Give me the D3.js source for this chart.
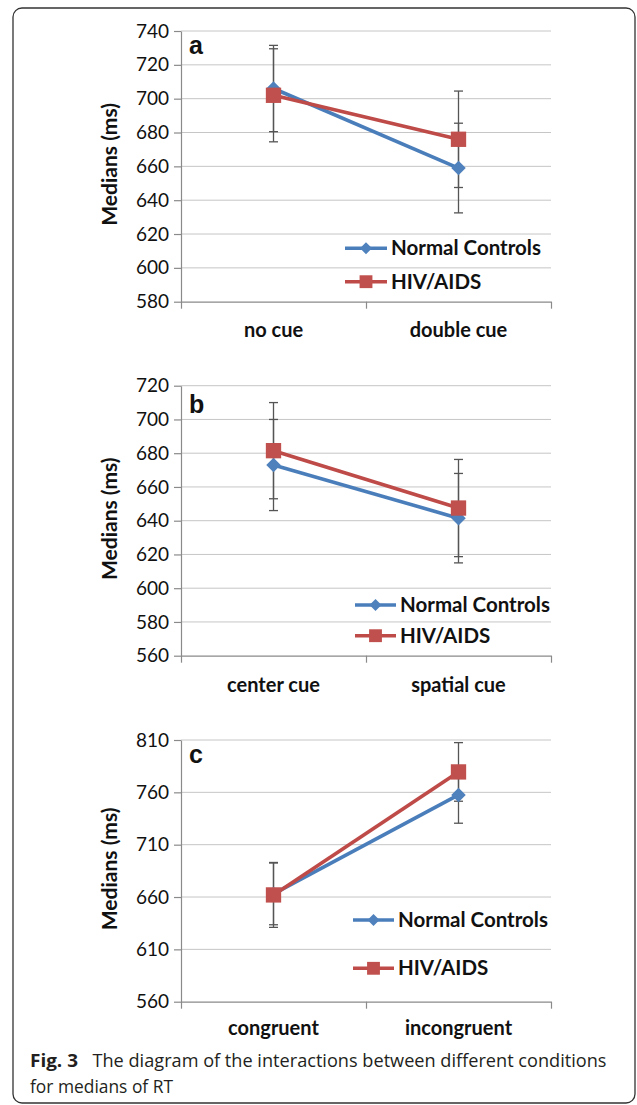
<!DOCTYPE html>
<html>
<head>
<meta charset="utf-8">
<script src="https://cdn.jsdelivr.net/npm/d3@7"></script>
<style>
	body { margin: 0; background: #fff; }
	svg { display: block; }
	.grid line { stroke: #c6c6c6; stroke-width: 1; }
	.axis path, .axis line { stroke: #8a8a8a; stroke-width: 1.2; }
	.axis text { font-family: Lato, sans-serif; font-size: 19px; fill: #111; }
	.cat-label { font-family: Lato, sans-serif; font-size: 20px; font-weight: bold; fill: #111; }
	.y-title { font-family: Lato, sans-serif; font-size: 21px; font-weight: bold; fill: #111; }
	.panel-label { font-family: 'Liberation Sans', Arial, sans-serif; font-size: 25px; font-weight: bold; fill: #111; }
	.legend text { font-family: Lato, sans-serif; font-size: 20.5px; font-weight: bold; fill: #111; }
	.err { stroke: #555; stroke-width: 1.3; }
	.caption { font-family: 'Open Sans', sans-serif; font-size: 18px; fill: #231f20; }
</style>
</head>
<body>
<script>
	// panel a
	var categoriesA = ['no cue', 'double cue'];
	var ticksA = [580, 600, 620, 640, 660, 680, 700, 720, 740];
	var normalA = [706, 659];
	var normalErrA = [25.5, 26.5];
	var hivA = [702, 676];
	var hivErrA = [27.5, 28.5];

	// panel b
	var categoriesB = ['center cue', 'spatial cue'];
	var ticksB = [560, 580, 600, 620, 640, 660, 680, 700, 720];
	var normalB = [673, 641.5];
	var normalErrB = [27, 26.5];
	var hivB = [681.5, 647.5];
	var hivErrB = [28.5, 28.8];

	// panel c
	var categoriesC = ['congruent', 'incongruent'];
	var ticksC = [560, 610, 660, 710, 760, 810];
	var normalC = [663, 757.5];
	var normalErrC = [29.5, 27];
	var hivC = [662, 779.5];
	var hivErrC = [31, 28];

	var seriesNames = ['Normal Controls', 'HIV/AIDS'];

	var blueLine = '#4a7ebb', blueMark = '#4f81bd';
	var redLine = '#be4b48', redMark = '#c0504d';

	var fullWidth = 637;
	var fullHeight = 1105;
	var left = 181, right = 551;

	var svg = d3.select('body')
		.append('svg')
		.attr('width', fullWidth)
		.attr('height', fullHeight);

	// figure frame
	svg.append('rect')
		.attr('x', 13)
		.attr('y', 8)
		.attr('width', 622)
		.attr('height', 1095)
		.attr('rx', 9)
		.attr('fill', 'none')
		.attr('stroke', '#333')
		.attr('stroke-width', 1.3);

	var diamond = d3.symbol().type(d3.symbolSquare).size(105);
	var square = d3.symbol().type(d3.symbolSquare).size(235);
	var diamondSmall = d3.symbol().type(d3.symbolSquare).size(72);
	var squareSmall = d3.symbol().type(d3.symbolSquare).size(165);

	var panels = [
		{ label: 'a', categories: categoriesA, ticks: ticksA, normal: normalA, normalErr: normalErrA, hiv: hivA, hivErr: hivErrA,
			top: 31, bottom: 301.7, legend: [345, 387, 248.3, 281.7], catY: 337 },
		{ label: 'b', categories: categoriesB, ticks: ticksB, normal: normalB, normalErr: normalErrB, hiv: hivB, hivErr: hivErrB,
			top: 385.7, bottom: 655.7, legend: [355, 396, 605, 635.7], catY: 692 },
		{ label: 'c', categories: categoriesC, ticks: ticksC, normal: normalC, normalErr: normalErrC, hiv: hivC, hivErr: hivErrC,
			top: 740, bottom: 1001.7, legend: [353, 394, 920, 968.3], catY: 1035 }
	];

	panels.forEach(render);

	function render(p) {
		var x = d3.scalePoint()
			.domain(p.categories)
			.range([left, right])
			.padding(0.5);

		var y = d3.scaleLinear()
			.domain([p.ticks[0], p.ticks[p.ticks.length - 1]])
			.range([p.bottom, p.top]);

		var bounds = d3.scaleLinear()
			.domain([0, p.categories.length])
			.range([left, right]);

		var g = svg.append('g');

		// gridlines
		g.append('g')
			.attr('class', 'grid')
			.selectAll('line')
			.data(p.ticks.slice(1))
			.enter().append('line')
			.attr('x1', left)
			.attr('x2', right)
			.attr('y1', function(d) { return y(d); })
			.attr('y2', function(d) { return y(d); });

		var yAxis = d3.axisLeft(y)
			.tickValues(p.ticks)
			.tickSize(7)
			.tickPadding(5)
			.tickSizeOuter(0);

		g.append('g')
			.attr('class', 'y axis')
			.attr('transform', 'translate(' + left + ',0)')
			.call(yAxis);

		var xAxis = d3.axisBottom(bounds)
			.tickValues(d3.range(p.categories.length + 1))
			.tickFormat('')
			.tickSize(7)
			.tickSizeOuter(0);

		g.append('g')
			.attr('class', 'x axis')
			.attr('transform', 'translate(0,' + p.bottom + ')')
			.call(xAxis);

		g.selectAll('.cat-label')
			.data(p.categories)
			.enter().append('text')
			.attr('class', 'cat-label')
			.attr('x', function(d) { return x(d); })
			.attr('y', p.catY)
			.attr('text-anchor', 'middle')
			.text(function(d) { return d; });

		g.append('text')
			.attr('class', 'y-title')
			.attr('transform', 'translate(117,' + ((p.top + p.bottom) / 2 - 2) + ') rotate(-90)')
			.attr('text-anchor', 'middle')
			.text('Medians (ms)');

		g.append('text')
			.attr('class', 'panel-label')
			.attr('x', 189)
			.attr('y', p.top + (p.label === 'b' ? 27 : 23))
			.text(p.label);

		// error bars
		drawErrors(g, x, y, p.normal, p.normalErr);
		drawErrors(g, x, y, p.hiv, p.hivErr);

		var line = d3.line()
			.x(function(d, i) { return x(p.categories[i]); })
			.y(function(d) { return y(d); });

		g.append('path')
			.datum(p.normal)
			.attr('fill', 'none')
			.attr('stroke', blueLine)
			.attr('stroke-width', 3.6)
			.attr('d', line);

		g.selectAll('.mark-normal')
			.data(p.normal)
			.enter().append('path')
			.attr('class', 'mark-normal')
			.attr('d', diamond)
			.attr('fill', blueMark)
			.attr('transform', function(d, i) { return 'translate(' + x(p.categories[i]) + ',' + y(d) + ') rotate(45)'; });

		g.append('path')
			.datum(p.hiv)
			.attr('fill', 'none')
			.attr('stroke', redLine)
			.attr('stroke-width', 3.6)
			.attr('d', line);

		g.selectAll('.mark-hiv')
			.data(p.hiv)
			.enter().append('path')
			.attr('class', 'mark-hiv')
			.attr('d', square)
			.attr('fill', redMark)
			.attr('transform', function(d, i) { return 'translate(' + x(p.categories[i]) + ',' + y(d) + ')'; });

		// legend
		var lg = g.append('g').attr('class', 'legend');
		var lx1 = p.legend[0], lx2 = p.legend[1];
		var rows = [
			{ name: seriesNames[0], y: p.legend[2], stroke: blueLine, fill: blueMark, sym: diamondSmall, rot: 45 },
			{ name: seriesNames[1], y: p.legend[3], stroke: redLine, fill: redMark, sym: squareSmall, rot: 0 }
		];
		rows.forEach(function(r) {
			lg.append('line')
				.attr('x1', lx1)
				.attr('x2', lx2)
				.attr('y1', r.y)
				.attr('y2', r.y)
				.attr('stroke', r.stroke)
				.attr('stroke-width', 3.6);
			lg.append('path')
				.attr('d', r.sym)
				.attr('fill', r.fill)
				.attr('transform', 'translate(' + ((lx1 + lx2) / 2) + ',' + r.y + ') rotate(' + r.rot + ')');
			lg.append('text')
				.attr('x', lx2 + 4)
				.attr('y', r.y + 7)
				.text(r.name);
		});
	}

	function drawErrors(g, x, y, values, errs) {
		var cats = x.domain();
		var eb = g.append('g');
		values.forEach(function(v, i) {
			var cx = x(cats[i]);
			eb.append('line')
				.attr('class', 'err')
				.attr('x1', cx).attr('x2', cx)
				.attr('y1', y(v + errs[i])).attr('y2', y(v - errs[i]));
			[v + errs[i], v - errs[i]].forEach(function(e) {
				eb.append('line')
					.attr('class', 'err')
					.attr('x1', cx - 4.5).attr('x2', cx + 4.5)
					.attr('y1', y(e)).attr('y2', y(e));
			});
		});
	}

	// caption
	svg.append('text')
		.attr('class', 'caption')
		.attr('x', 30)
		.attr('y', 1066.5)
		.attr('font-weight', 'bold')
		.attr('textLength', 48)
		.attr('lengthAdjust', 'spacingAndGlyphs')
		.text('Fig. 3');
	svg.append('text')
		.attr('class', 'caption')
		.attr('x', 92.5)
		.attr('y', 1066.5)
		.attr('textLength', 514)
		.attr('lengthAdjust', 'spacingAndGlyphs')
		.text('The diagram of the interactions between different conditions');
	svg.append('text')
		.attr('class', 'caption')
		.attr('x', 30)
		.attr('y', 1093)
		.attr('textLength', 143)
		.attr('lengthAdjust', 'spacingAndGlyphs')
		.text('for medians of RT');
</script>
</body>
</html>
